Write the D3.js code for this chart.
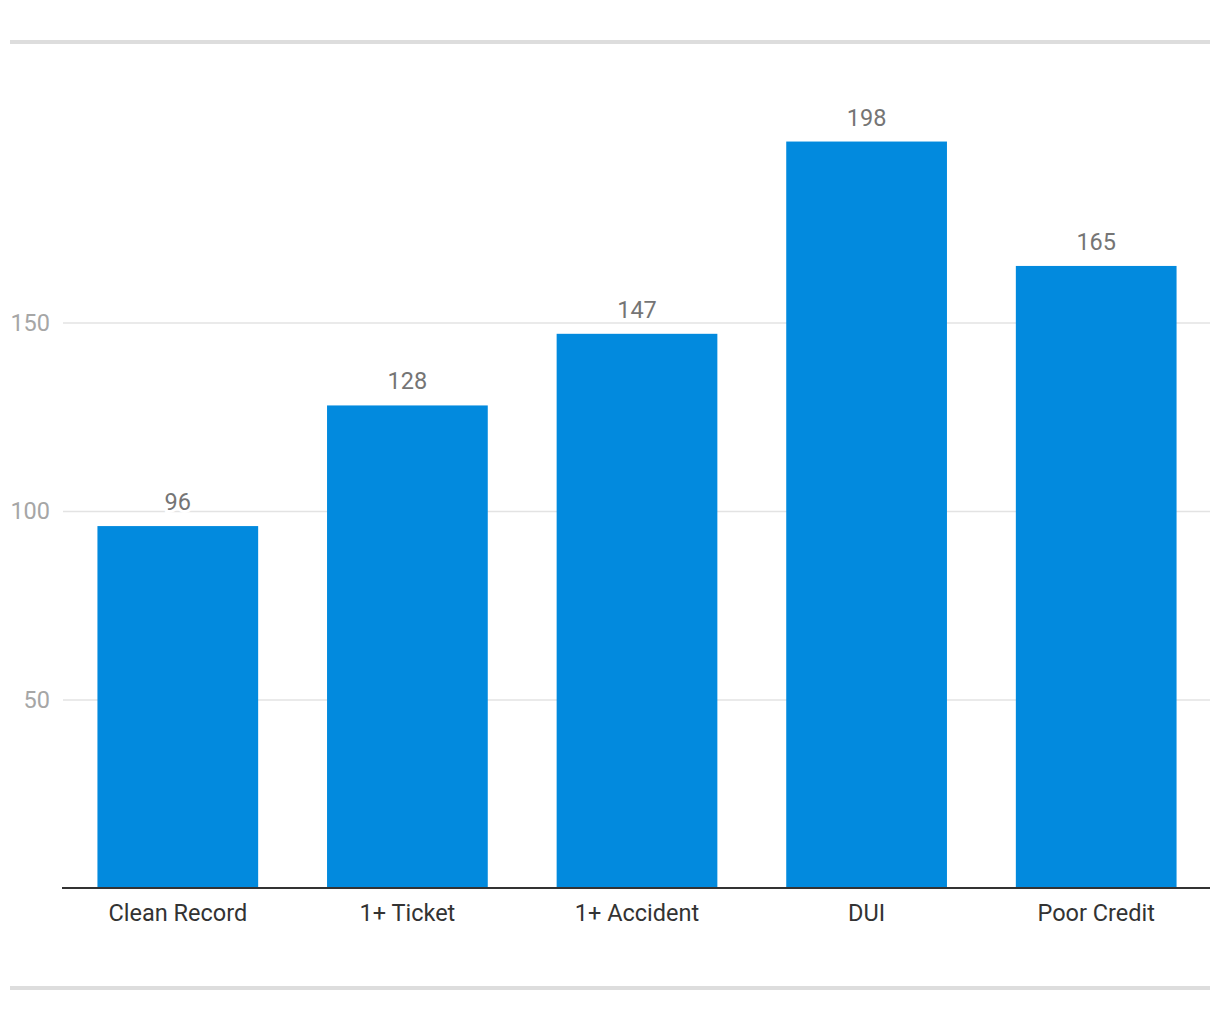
<!DOCTYPE html>
<html><head><meta charset="utf-8">
<script src="https://cdn.jsdelivr.net/npm/d3@7"></script>
<style>body{margin:0;background:#fff}svg{display:block}text{font-family:Roboto,"Noto Sans",sans-serif}</style>
</head><body>
<svg id="c" width="1220" height="1020"></svg>
<script>
const categories = ["Clean Record","1+ Ticket","1+ Accident","DUI","Poor Credit"];
const values = [96,128,147,198,165];
const tickValues = [50,100,150];

const svg = d3.select("#c");
const left = 63, right = 1211, baseY = 888;
const x = d3.scaleBand().domain(categories).range([left,right]).paddingInner(0.3).paddingOuter(0.15);
const y = d3.scaleLinear().domain([0,150]).range([baseY, 322.5]);

// top/bottom rules
svg.append("rect").attr("x",10).attr("y",40).attr("width",1200).attr("height",4).attr("fill","#dddddd");
svg.append("rect").attr("x",10).attr("y",986).attr("width",1200).attr("height",4).attr("fill","#dddddd");

// gridlines + tick labels
const yAxis = d3.axisLeft(y).tickValues(tickValues).tickSize(-(1210-left)).tickPadding(12);
const gy = svg.append("g").attr("transform",`translate(${left},0)`).call(yAxis);
gy.select(".domain").remove();
gy.selectAll(".tick line").attr("stroke","#e3e3e3").attr("stroke-width",1.5);
gy.selectAll(".tick text").attr("fill","#a6a6a6").style("font-size","23.5px").attr("x",-13);

// bars
svg.append("g").selectAll("rect").data(values).join("rect")
  .attr("x",(d,i)=>x(categories[i]))
  .attr("y",d=>y(d))
  .attr("width",x.bandwidth())
  .attr("height",d=>baseY-y(d))
  .attr("fill","#028ade");

// value labels
svg.append("g").selectAll("text").data(values).join("text")
  .attr("x",(d,i)=>x(categories[i])+x.bandwidth()/2)
  .attr("y",d=>y(d)-16)
  .attr("text-anchor","middle")
  .attr("fill","#757575")
  .attr("stroke","#fff").attr("stroke-width",6).attr("paint-order","stroke")
  .style("font-size","23.5px")
  .text(d=>d);

// x axis
const xAxis = d3.axisBottom(x).tickSize(0).tickPadding(16);
const gx = svg.append("g").attr("transform",`translate(0,${baseY})`).call(xAxis);
gx.select(".domain").attr("stroke","#333").attr("stroke-width",2).attr("d",`M${left-1},0H1210`);
gx.selectAll(".tick text").attr("fill","#333").style("font-size","23.5px");
</script>
</body></html>
